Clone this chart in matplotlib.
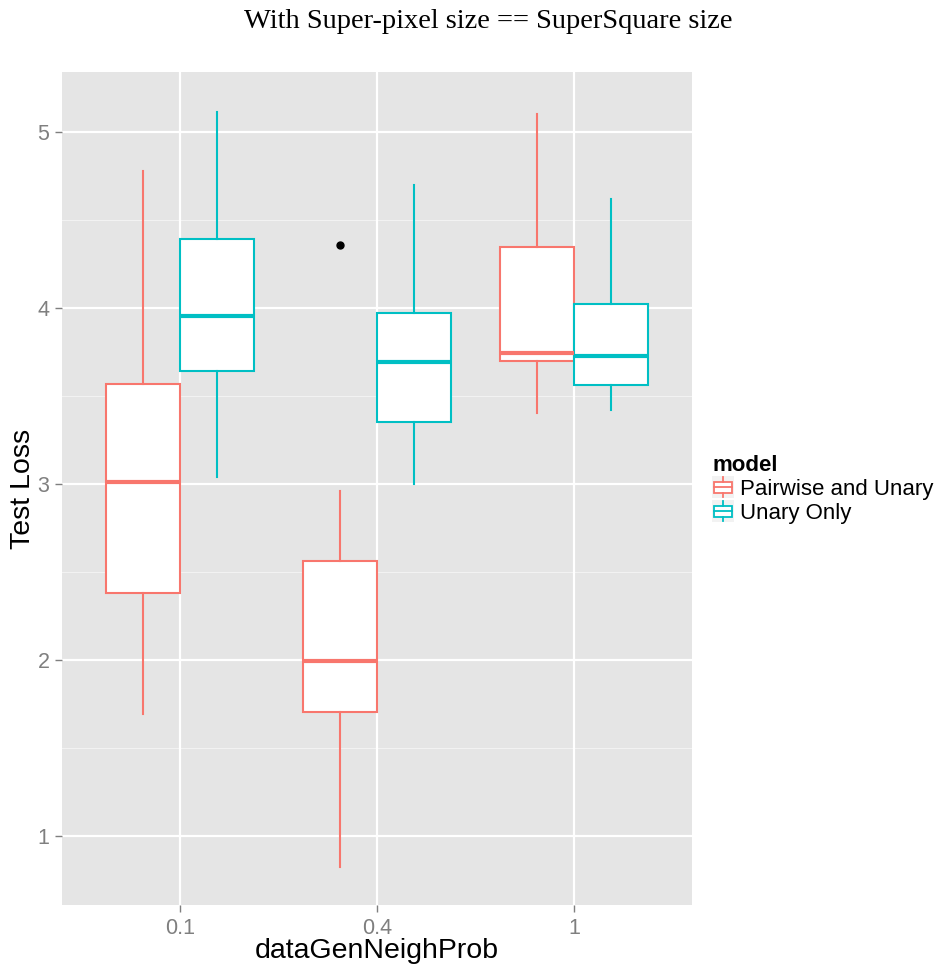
import numpy as np
import matplotlib.pyplot as plt
from matplotlib.patches import Rectangle
from matplotlib.lines import Line2D
from matplotlib.legend_handler import HandlerBase

# x categories and model groups
categories = ["0.1", "0.4", "1"]
models = ["Pairwise and Unary", "Unary Only"]
colours = {"Pairwise and Unary": "#F8766D", "Unary Only": "#00BFC4"}

# five-number summaries: whislo, q1, med, q3, whishi
pairwise_low = [1.69, 0.82, 3.40]
pairwise_q1 = [2.38, 1.70, 3.70]
pairwise_med = [3.01, 1.99, 3.745]
pairwise_q3 = [3.566, 2.56, 4.345]
pairwise_high = [4.777, 2.96, 5.10]
pairwise_fliers = [[], [4.356], []]

unary_low = [3.04, 3.00, 3.42]
unary_q1 = [3.64, 3.35, 3.56]
unary_med = [3.955, 3.69, 3.725]
unary_q3 = [4.39, 3.97, 4.02]
unary_high = [5.114, 4.70, 4.62]
unary_fliers = [[], [], []]

series = {
    "Pairwise and Unary": (pairwise_low, pairwise_q1, pairwise_med, pairwise_q3, pairwise_high, pairwise_fliers),
    "Unary Only": (unary_low, unary_q1, unary_med, unary_q3, unary_high, unary_fliers),
}


class BoxKey(HandlerBase):
    # ggplot-like legend key: grey square with a tiny boxplot inside
    def create_artists(self, legend, orig, xdescent, ydescent, width, height, fontsize, trans):
        c = orig.get_color()
        s = height * 1.3
        x0 = -xdescent
        y0 = -ydescent + (height - s) / 2
        bg = Rectangle((x0, y0), s, s, facecolor="#F2F2F2", edgecolor="none", transform=trans)
        bx = Rectangle((x0 + 0.08 * s, y0 + 0.25 * s), 0.84 * s, 0.5 * s,
                       facecolor="white", edgecolor=c, lw=1.3, transform=trans)
        med = Line2D([x0 + 0.08 * s, x0 + 0.92 * s], [y0 + 0.5 * s] * 2, color=c, lw=1.3, transform=trans)
        w1 = Line2D([x0 + 0.5 * s] * 2, [y0 + 0.05 * s, y0 + 0.25 * s], color=c, lw=1.3, transform=trans)
        w2 = Line2D([x0 + 0.5 * s] * 2, [y0 + 0.75 * s, y0 + 0.95 * s], color=c, lw=1.3, transform=trans)
        return [bg, bx, med, w1, w2]


plt.rcParams["font.family"] = ["Liberation Sans", "DejaVu Sans"]

fig = plt.figure(figsize=(9.42, 9.64), dpi=100)
ax = fig.add_axes([62 / 942, 1 - 905 / 964, 630 / 942, 833 / 964])
ax.set_facecolor("#E5E5E5")

# ggplot-style grid
for v in np.arange(0.5, 5.6, 1.0):
    ax.axhline(v, color="#F2F2F2", lw=0.8, zorder=0)
for v in range(1, 6):
    ax.axhline(v, color="white", lw=1.6, zorder=0)
for i in range(len(categories)):
    ax.axvline(i + 1, color="white", lw=1.6, zorder=0)

width = 0.375
for j, m in enumerate(models):
    lo, q1, med, q3, hi, fl = series[m]
    stats = []
    for i in range(len(categories)):
        stats.append(dict(whislo=lo[i], q1=q1[i], med=med[i], q3=q3[i], whishi=hi[i], fliers=fl[i]))
    positions = [i + 1 + (j - 0.5) * width for i in range(len(categories))]
    c = colours[m]
    ax.bxp(stats, positions=positions, widths=width, patch_artist=True, showcaps=False,
           boxprops=dict(facecolor="white", edgecolor=c, linewidth=1.5),
           whiskerprops=dict(color=c, linewidth=1.5),
           medianprops=dict(color=c, linewidth=3.0),
           flierprops=dict(marker="o", markerfacecolor="black", markeredgecolor="black", markersize=5),
           manage_ticks=False, zorder=3)

ax.set_xlim(0.4, 3.6)
ax.set_ylim(0.606, 5.34)
ax.set_xticks(range(1, len(categories) + 1))
ax.set_xticklabels(categories)
ax.set_yticks([1, 2, 3, 4, 5])
ax.tick_params(colors="#7F7F7F", labelsize=15.5, length=5, width=1, pad=4)
for s in ax.spines.values():
    s.set_visible(False)

ax.set_xlabel("dataGenNeighProb", fontsize=20.5, labelpad=0)
ax.set_ylabel("Test Loss", fontsize=20.5, labelpad=1)

fig.text(488 / 942, 1 - 28 / 964, "With Super-pixel size == SuperSquare size",
         ha="center", va="baseline", fontsize=20.5, family=["Liberation Serif", "DejaVu Serif"])

handles = [Line2D([], [], color=colours[m]) for m in models]
leg = fig.legend(handles, models, title="model", loc="upper left",
                 bbox_to_anchor=(712 / 942, 1 - 455 / 964), frameon=False,
                 fontsize=16, title_fontsize=16, handlelength=1.0, handleheight=0.8,
                 handletextpad=0.25, labelspacing=0.12, borderaxespad=0, borderpad=0,
                 handler_map={Line2D: BoxKey()})
leg.get_title().set_fontweight("bold")
leg._legend_box.align = "left"

fig.savefig("out.png", dpi=100)
